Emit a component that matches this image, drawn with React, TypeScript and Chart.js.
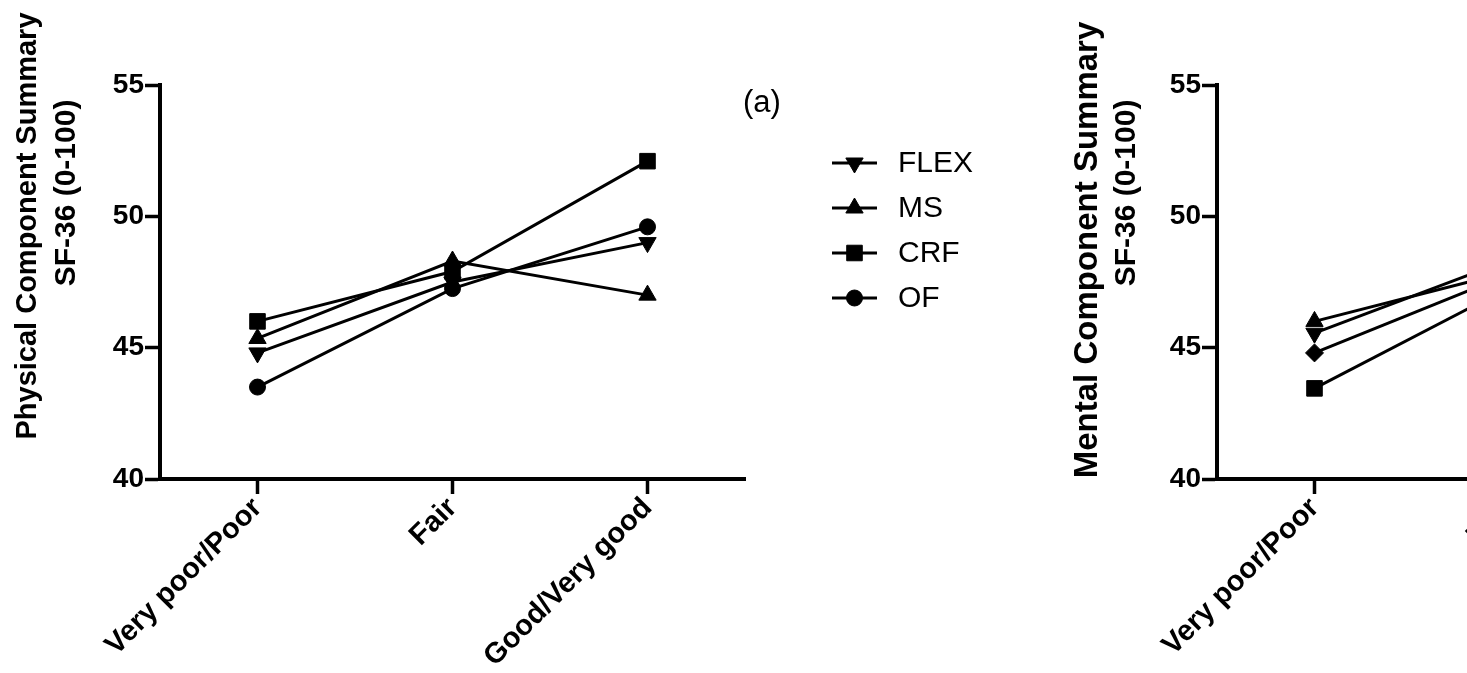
import React, { useEffect, useRef } from 'react';
import { Chart, registerables } from 'chart.js';

Chart.register(...registerables);

// ---------- data ----------
const categories = ['Very poor/Poor', 'Fair', 'Good/Very good'];
const yTickValues = [40, 45, 50, 55];
const seriesNames = ['FLEX', 'MS', 'CRF', 'OF'];

// Panel (a): Physical Component Summary
const pcsFlex = [44.8, 47.5, 49.0];
const pcsMs = [45.35, 48.3, 47.0];
const pcsCrf = [46.0, 47.9, 52.1];
const pcsOf = [43.5, 47.25, 49.6];

// Panel (b): Mental Component Summary (only the visible part of the panel)
const mcsTriangleUp = [46.0, 47.9];
const mcsTriangleDown = [45.55, 48.35];
const mcsDiamond = [44.8, 47.8];
const mcsSquare = [43.45, 47.3];

const pcsTitle = ['Physical Component Summary', 'SF-36 (0-100)'];
const mcsTitle = ['Mental Component Summary', 'SF-36 (0-100)'];
const panelLabel = '(a)';

const FONT = '"Liberation Sans", Arial, Helvetica, sans-serif';

type Series = { name: string; values: number[]; style: string; rotation: number; radius: number };

const pcsSeries: Series[] = [
  { name: seriesNames[0], values: pcsFlex, style: 'triangle', rotation: 180, radius: 10 },
  { name: seriesNames[1], values: pcsMs, style: 'triangle', rotation: 0, radius: 10 },
  { name: seriesNames[2], values: pcsCrf, style: 'rect', rotation: 0, radius: 11 },
  { name: seriesNames[3], values: pcsOf, style: 'circle', rotation: 0, radius: 8 },
];

const mcsSeries: Series[] = [
  { name: 'Group 1', values: mcsTriangleUp, style: 'triangle', rotation: 0, radius: 10 },
  { name: 'Group 2', values: mcsTriangleDown, style: 'triangle', rotation: 180, radius: 10 },
  { name: 'Group 3', values: mcsDiamond, style: 'rectRot', rotation: 0, radius: 9 },
  { name: 'Group 4', values: mcsSquare, style: 'rect', rotation: 0, radius: 11 },
];

function drawMarker(ctx: CanvasRenderingContext2D, style: string, rotation: number, r: number, x: number, y: number) {
  ctx.beginPath();
  let rad = (rotation * Math.PI) / 180;
  if (style === 'circle') {
    ctx.arc(x, y, r, 0, Math.PI * 2);
  } else if (style === 'rect') {
    const s = Math.SQRT1_2 * r;
    ctx.rect(x - s, y - s, 2 * s, 2 * s);
  } else if (style === 'rectRot') {
    ctx.moveTo(x - r, y);
    ctx.lineTo(x, y - r);
    ctx.lineTo(x + r, y);
    ctx.lineTo(x, y + r);
  } else {
    ctx.moveTo(x + Math.sin(rad) * r, y - Math.cos(rad) * r);
    rad += (2 * Math.PI) / 3;
    ctx.lineTo(x + Math.sin(rad) * r, y - Math.cos(rad) * r);
    rad += (2 * Math.PI) / 3;
    ctx.lineTo(x + Math.sin(rad) * r, y - Math.cos(rad) * r);
  }
  ctx.closePath();
  ctx.fill();
  ctx.stroke();
}

type TitleLine = { text: string; x: number; y: number; size: number };

type PanelProps = {
  series: Series[];
  titles: TitleLine[];
  showLegend: boolean;
  label: string | null;
  left: number;
};

function Panel({ series, titles, showLegend, label, left }: PanelProps) {
  const ref = useRef<HTMLCanvasElement>(null);

  useEffect(() => {
    const decor = {
      id: 'panelDecor',
      afterDraw(chart: any) {
        const ctx: CanvasRenderingContext2D = chart.ctx;
        const area = chart.chartArea;
        ctx.save();
        ctx.fillStyle = '#000';
        ctx.strokeStyle = '#000';
        // y-axis titles
        titles.forEach((t) => {
          ctx.save();
          ctx.translate(t.x, t.y);
          ctx.rotate(-Math.PI / 2);
          ctx.font = `bold ${t.size}px ${FONT}`;
          ctx.textAlign = 'center';
          ctx.textBaseline = 'middle';
          ctx.fillText(t.text, 0, 0);
          ctx.restore();
        });
        // panel label
        if (label) {
          ctx.font = `31px ${FONT}`;
          ctx.textAlign = 'left';
          ctx.textBaseline = 'middle';
          ctx.fillText(label, area.right - 2, area.top + 18);
        }
        // legend
        if (showLegend) {
          chart.data.datasets.forEach((ds: any, i: number) => {
            const y = area.top + 78 + 45 * i;
            const x0 = area.right + 87;
            const x1 = x0 + 45;
            ctx.lineWidth = 3;
            ctx.beginPath();
            ctx.moveTo(x0, y);
            ctx.lineTo(x1, y);
            ctx.stroke();
            ctx.lineWidth = 1;
            drawMarker(ctx, ds.pointStyle, ds.pointRotation, ds.pointRadius, (x0 + x1) / 2, y);
            ctx.font = `30px ${FONT}`;
            ctx.textAlign = 'left';
            ctx.textBaseline = 'middle';
            ctx.fillText(ds.label, x1 + 21, y + 1);
          });
        }
        ctx.restore();
      },
    };

    const axisGrid = {
      drawOnChartArea: false,
      drawTicks: true,
      tickLength: 15,
      tickWidth: 3.5,
      tickColor: '#000',
      offset: false,
    };
    const axisBorder = { display: true, color: '#000', width: 4 };

    const chart = new Chart(ref.current as HTMLCanvasElement, {
      type: 'line',
      data: {
        labels: categories,
        datasets: series.map((s) => ({
          label: s.name,
          data: s.values,
          borderColor: '#000',
          backgroundColor: '#000',
          borderWidth: 3,
          pointStyle: s.style as any,
          pointRotation: s.rotation,
          pointRadius: s.radius,
          pointBorderWidth: 1,
          pointBackgroundColor: '#000',
          pointBorderColor: '#000',
          tension: 0,
          fill: false,
        })),
      },
      options: {
        animation: false,
        responsive: false,
        events: [],
        layout: { padding: { top: 85, right: 255, left: 0, bottom: 0 } },
        plugins: {
          legend: { display: false },
          tooltip: { enabled: false },
        },
        scales: {
          x: {
            type: 'category',
            offset: true,
            grid: axisGrid as any,
            border: axisBorder,
            ticks: {
              color: '#000',
              font: { family: FONT, size: 29, weight: 'bold' },
              minRotation: 45,
              maxRotation: 45,
              padding: -3,
              autoSkip: false,
            },
            afterFit: (s: any) => {
              s.height = 194;
            },
          },
          y: {
            type: 'linear',
            min: 40,
            max: 55,
            grid: axisGrid as any,
            border: axisBorder,
            ticks: {
              color: '#000',
              font: { family: FONT, size: 28, weight: 'bold' },
              padding: 1,
            },
            afterBuildTicks: (s: any) => {
              s.ticks = yTickValues.map((v) => ({ value: v }));
            },
            afterFit: (s: any) => {
              s.width = 160;
            },
          },
        },
      },
      plugins: [decor],
    });
    return () => chart.destroy();
  }, []);

  return (
    <canvas
      ref={ref}
      width={1000}
      height={673}
      style={{ position: 'absolute', left, top: 0, width: 1000, height: 673 }}
    />
  );
}

export default function App() {
  return (
    <div
      style={{
        position: 'fixed',
        left: 0,
        top: 0,
        width: 1467,
        height: 673,
        overflow: 'hidden',
        background: '#fff',
      }}
    >
      <Panel
        series={pcsSeries}
        titles={[
          { text: pcsTitle[0], x: 28, y: 226, size: 29 },
          { text: pcsTitle[1], x: 67, y: 193, size: 30 },
        ]}
        showLegend={true}
        label={panelLabel}
        left={0}
      />
      <Panel
        series={mcsSeries}
        titles={[
          { text: mcsTitle[0], x: 31, y: 250, size: 33 },
          { text: mcsTitle[1], x: 70, y: 193, size: 30 },
        ]}
        showLegend={false}
        label={null}
        left={1057}
      />
    </div>
  );
}
